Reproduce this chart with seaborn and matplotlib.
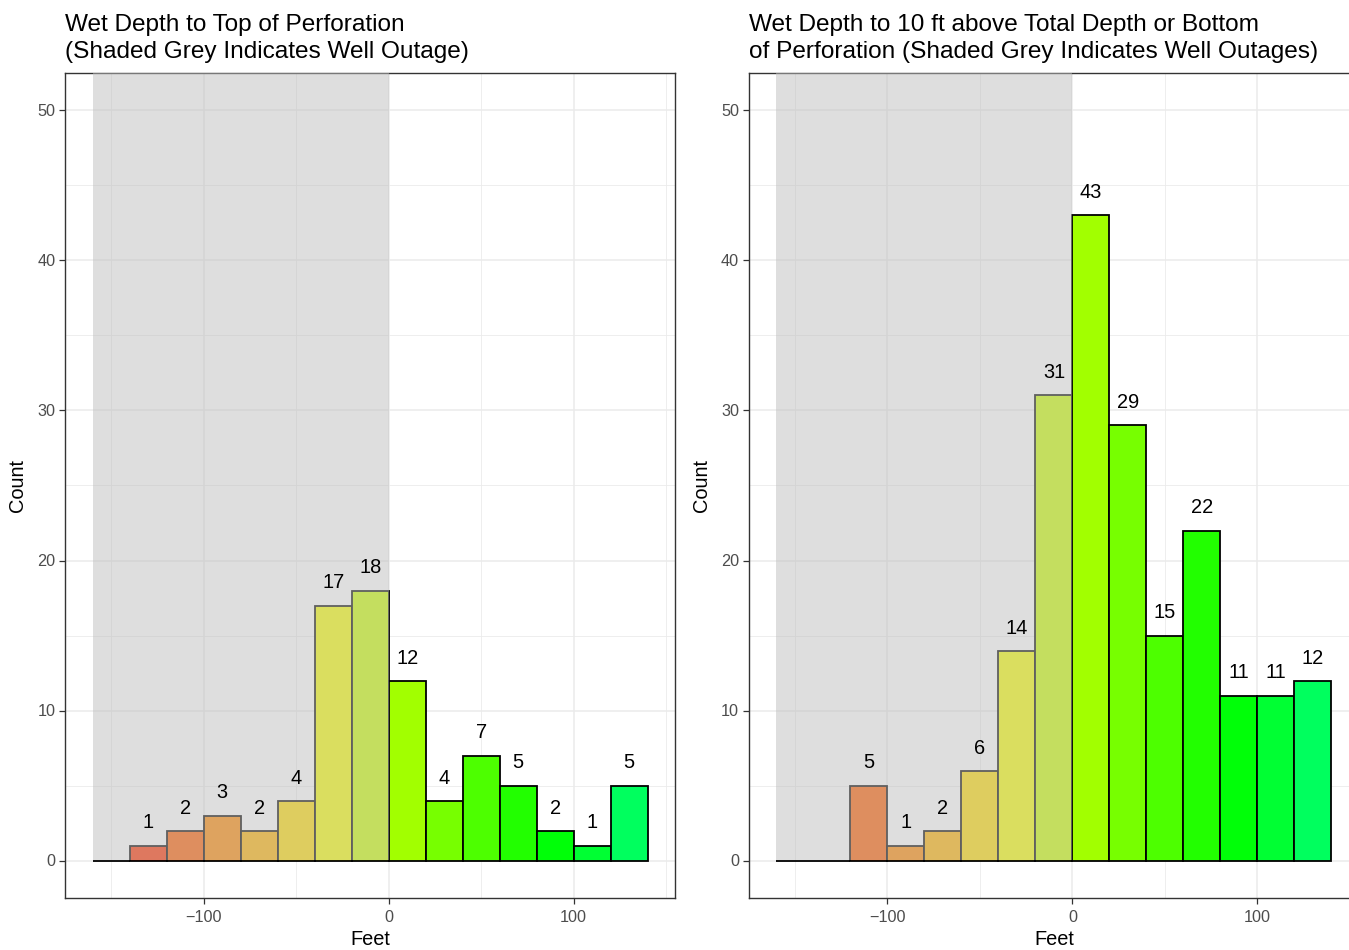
import numpy as np
import pandas as pd
import matplotlib
matplotlib.use("Agg")
import matplotlib.pyplot as plt
import matplotlib.colors as mcolors
import seaborn as sns

bin_edges = [-160, -140, -120, -100, -80, -60, -40, -20, 0, 20, 40, 60, 80, 100, 120, 140]
counts_top = [0, 1, 2, 3, 2, 4, 17, 18, 12, 4, 7, 5, 2, 1, 5]
counts_bottom = [0, 0, 5, 1, 2, 6, 14, 31, 43, 29, 15, 22, 11, 11, 12]
title_left = "Wet Depth to Top of Perforation\n(Shaded Grey Indicates Well Outage)"
title_right = "Wet Depth to 10 ft above Total Depth or Bottom\nof Perforation (Shaded Grey Indicates Well Outages)"
outage_range = (-160, 0)
x_ticks = [-100, 0, 100]
x_tick_labels = ["\u2212100", "0", "100"]
y_ticks = [0, 10, 20, 30, 40, 50]

sns.set_theme(style="white")
plt.rcParams['font.family'] = ['Liberation Sans', 'DejaVu Sans']

fig = plt.figure(figsize=(13.49, 9.5), dpi=100)
ax1 = fig.add_axes([65/1349, 1-898/950, (675.5-65)/1349, (898-73)/950])
ax2 = fig.add_axes([748.7/1349, 1-898/950, (1359.2-748.7)/1349, (898-73)/950])

edges = np.array(bin_edges, dtype=float)
centers = (edges[:-1] + edges[1:]) / 2

def bar_color(c):
    h = (77 + c / 2) / 360.0
    return mcolors.hsv_to_rgb((h, 1, 1))

def draw(ax, counts, title):
    df = pd.DataFrame({"x": centers, "w": counts})
    sns.histplot(data=df, x="x", weights="w", bins=list(bin_edges), ax=ax,
                 edgecolor="black", linewidth=1.3, alpha=1, zorder=2)
    patches = ax.containers[0].patches if ax.containers else ax.patches
    for p, c in zip(patches, centers):
        p.set_facecolor(bar_color(c))
        p.set_edgecolor("black")
        p.set_linewidth(1.3)
        p.set_zorder(2)
    ax.set_xlim(-175, 155)
    ax.set_ylim(-2.5, 52.5)
    ax.fill_between(list(outage_range), 0, 52.5, color="#BEBEBE", alpha=0.5, lw=0, zorder=3)
    for c, n in zip(centers, counts):
        if n > 0:
            ax.text(c, n + 1.5, str(n), ha="center", va="center", fontsize=14.4,
                    color="black", zorder=4)
    ax.set_xticks(x_ticks)
    ax.set_xticklabels(x_tick_labels)
    ax.set_yticks(y_ticks)
    ax.set_xticks([-150, -50, 50, 150], minor=True)
    ax.set_yticks([5, 15, 25, 35, 45], minor=True)
    ax.grid(True, which="major", color="#EBEBEB", linewidth=1.1, zorder=0)
    ax.grid(True, which="minor", color="#EBEBEB", linewidth=0.6, zorder=0)
    ax.set_axisbelow(True)
    ax.tick_params(axis="both", which="major", length=4, width=0.9, color="#333333",
                   labelsize=11.7, labelcolor="#4D4D4D", bottom=True, left=True, pad=3)
    ax.tick_params(axis="x", which="major", pad=4.5)
    ax.tick_params(axis="both", which="minor", length=0)
    for s in ax.spines.values():
        s.set_color("#333333")
        s.set_linewidth(1.0)
        s.set_visible(True)
    ax.set_xlabel("Feet", fontsize=14.4, color="black", labelpad=4)
    ax.set_ylabel("Count", fontsize=14.4, color="black", labelpad=7)
    ax.set_title(title, loc="left", fontsize=17.6, color="black", pad=10.5, linespacing=1.3)

draw(ax1, counts_top, title_left)
draw(ax2, counts_bottom, title_right)

fig.savefig("out.png", dpi=100)
